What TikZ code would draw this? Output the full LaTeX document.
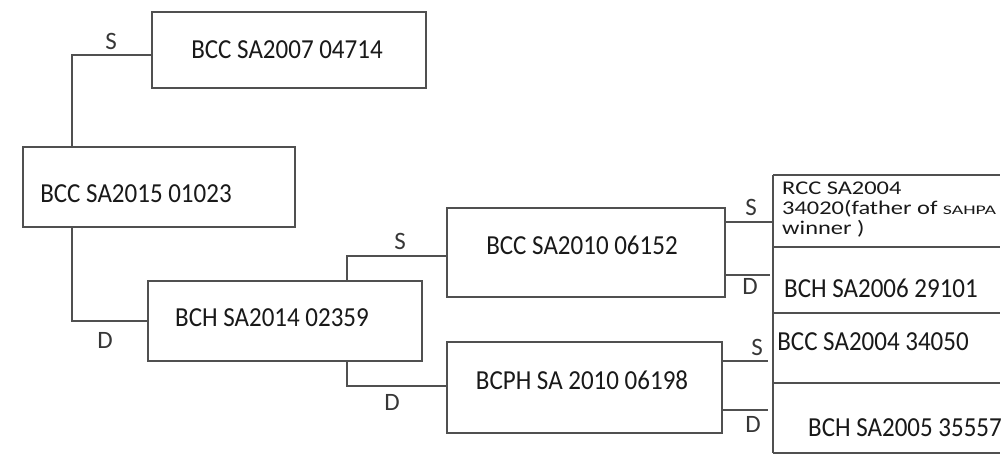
\documentclass[tikz,border=0pt]{standalone}
\usepackage{fontspec}
\setmainfont{Carlito}
\usetikzlibrary{calc}
\definecolor{pen}{RGB}{80,80,80}
\definecolor{ink}{RGB}{25,25,25}
\definecolor{hand}{RGB}{55,55,55}
\newcommand{\tallt}[1]{\scalebox{1}[1.1]{#1}}
\newcommand{\widet}[1]{\scalebox{1.32}[1.05]{#1}}
\tikzset{
  pbox/.style={draw=pen, line width=1.1pt, inner sep=0pt, outer sep=0pt},
  conn/.style={draw=pen, line width=1.1pt},
  ptext/.style={text=ink, inner sep=0pt, font=\fontsize{25}{30}\selectfont},
  sexlabel/.style={text=hand, inner sep=0pt, font=\fontsize{25}{26}\selectfont}
}
\begin{document}
\begin{tikzpicture}[x=1pt,y=-1pt]
\useasboundingbox[fill=white] (0,0) rectangle (1008,455);
% boxes
\node[pbox, minimum width=274pt, minimum height=76pt] (A) at (289,50) {};
\node[pbox, minimum width=272pt, minimum height=80pt] (B) at (159,187) {};
\node[pbox, minimum width=274pt, minimum height=80pt] (C) at (285,321) {};
\node[pbox, minimum width=278pt, minimum height=89pt] (D) at (586,252.5) {};
\node[pbox, minimum width=275pt, minimum height=91pt] (E) at (584.5,387.5) {};
% box texts
\node[ptext] (tA) at (287,50) {\tallt{BCC SA2007 04714}};
\node[ptext] (tB) at (136,194) {\tallt{BCC SA2015 01023}};
\node[ptext] (tC) at (272,318) {\tallt{BCH SA2014 02359}};
\node[ptext] (tD) at (582,245) {\tallt{BCC SA2010 06152}};
\node[ptext] (tE) at (582,380) {\tallt{BCPH SA 2010 06198}};
% right column (open boxes)
\draw[conn] (773,175) -- (773,453);
\draw[conn] (773,175) -- (1000,175);
\draw[conn] (773,247) -- (1000,247);
\draw[conn] (773,313) -- (1000,313);
\draw[conn] (773,383) -- (1000,383);
\draw[conn] (773,453) -- (1000,453);
\node[text=ink, inner sep=0pt, anchor=north west, align=left,
      font=\fontsize{18.5}{20}\selectfont] (tR1) at (782,182)
  {\widet{RCC SA2004}\\
   \widet{34020(father of {\fontsize{12.5}{14}\selectfont\scalebox{1.2}[1]{SAHPA}}}\\
   \widet{winner )}};
\node[ptext] (tR2) at (881,288) {\tallt{BCH SA2006 29101}};
\node[ptext] (tR3) at (873,342) {\tallt{BCC SA2004 34050}};
\node[ptext] (tR4) at (905,428) {\tallt{BCH SA2005 35557}};
% connector coordinates
\coordinate (x1) at (72,0);
\coordinate (x2) at (347,0);
\coordinate (s1) at (773,222);
\coordinate (d1) at (770,275);
\coordinate (s2) at (768,361);
\coordinate (d2) at (768,410);
% connectors
\draw[conn] (B.north -| x1) |- ($(A.west)+(0,5)$);
\draw[conn] (B.south -| x1) |- (C.west);
\draw[conn] (C.north -| x2) |- ($(D.west)+(0,3.5)$);
\draw[conn] (C.south -| x2) |- ($(E.west)+(0,-1.5)$);
\draw[conn] (D.east |- s1) -- (s1);
\draw[conn] (D.east |- d1) -- (d1);
\draw[conn] (E.east |- s2) -- (s2);
\draw[conn] (E.east |- d2) -- (d2);
% S / D labels
\node[sexlabel] (lA) at (111,41) {S};
\node[sexlabel] (lB) at (105,340) {D};
\node[sexlabel] (lC) at (400,241) {S};
\node[sexlabel] (lE) at (392,402) {D};
\node[sexlabel] (l1) at (751,207) {S};
\node[sexlabel] (l2) at (750,286) {D};
\node[sexlabel] (l3) at (757,347) {S};
\node[sexlabel] (l4) at (753,424) {D};
\end{tikzpicture}
\end{document}
